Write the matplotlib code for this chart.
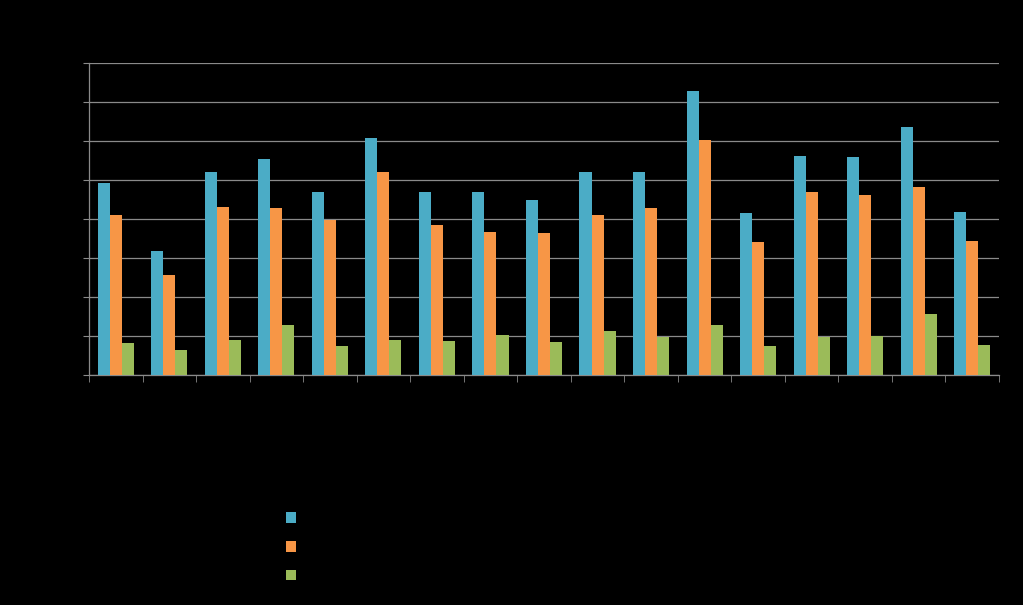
import numpy as np
import matplotlib.pyplot as plt

categories = ["1", "2", "3", "4", "5", "6", "7", "8", "9", "10",
              "11", "12", "13", "14", "15", "16", "17"]
series_a = [49.2, 31.8, 52.1, 55.4, 46.9, 60.8, 46.9, 46.9, 44.9, 52.1,
            52.1, 72.8, 41.5, 56.2, 55.9, 63.6, 41.8]
series_b = [41.0, 25.6, 43.1, 42.8, 39.7, 52.1, 38.5, 36.7, 36.4, 41.0,
            42.8, 60.3, 34.1, 46.9, 46.2, 48.2, 34.4]
series_c = [8.2, 6.4, 9.0, 12.8, 7.4, 9.0, 8.7, 10.3, 8.5, 11.3,
            9.7, 12.8, 7.4, 9.7, 10.0, 15.6, 7.7]
names = ["Series 1", "Series 2", "Series 3"]
colors = ["#4BACC6", "#F79646", "#9BBB59"]

fig = plt.figure(figsize=(10.23, 6.05), dpi=100, facecolor="black")
ax = fig.add_axes([89 / 1023, 1 - 375 / 605, 910 / 1023, 312 / 605])
ax.set_facecolor("black")

x = np.arange(len(categories))
w = 0.225
for i, (vals, name, c) in enumerate(zip([series_a, series_b, series_c], names, colors)):
    ax.bar(x + (i - 1) * w, vals, w, color=c, label=name, zorder=3)

ax.set_xlim(-0.5, len(categories) - 0.5)
ax.set_ylim(0, 80)
ax.set_yticks(np.arange(0, 81, 10))
ax.yaxis.grid(True, color="#8a8a8a", lw=0.9, zorder=0)
ax.set_xticks(x)
ax.set_xticklabels(categories, color="black")
ax.set_xticks(np.arange(-0.5, len(categories)), minor=True)
ax.tick_params(axis="x", which="major", length=0, pad=8)
ax.tick_params(axis="x", which="minor", length=5, color="#8a8a8a", direction="out")
ax.tick_params(axis="y", length=4, color="#8a8a8a", labelcolor="black", direction="out")
for s in ["top", "right"]:
    ax.spines[s].set_visible(False)
for s in ["left", "bottom"]:
    ax.spines[s].set_color("#8a8a8a")
    ax.spines[s].set_linewidth(0.9)

leg = fig.legend(loc="upper left", bbox_to_anchor=(272 / 1023, 1 - 497 / 605),
                 frameon=False, handlelength=0.7, handleheight=0.7,
                 labelspacing=0.9, fontsize=11)
for t in leg.get_texts():
    t.set_color("black")

fig.savefig("out.png", dpi=100, facecolor="black")
